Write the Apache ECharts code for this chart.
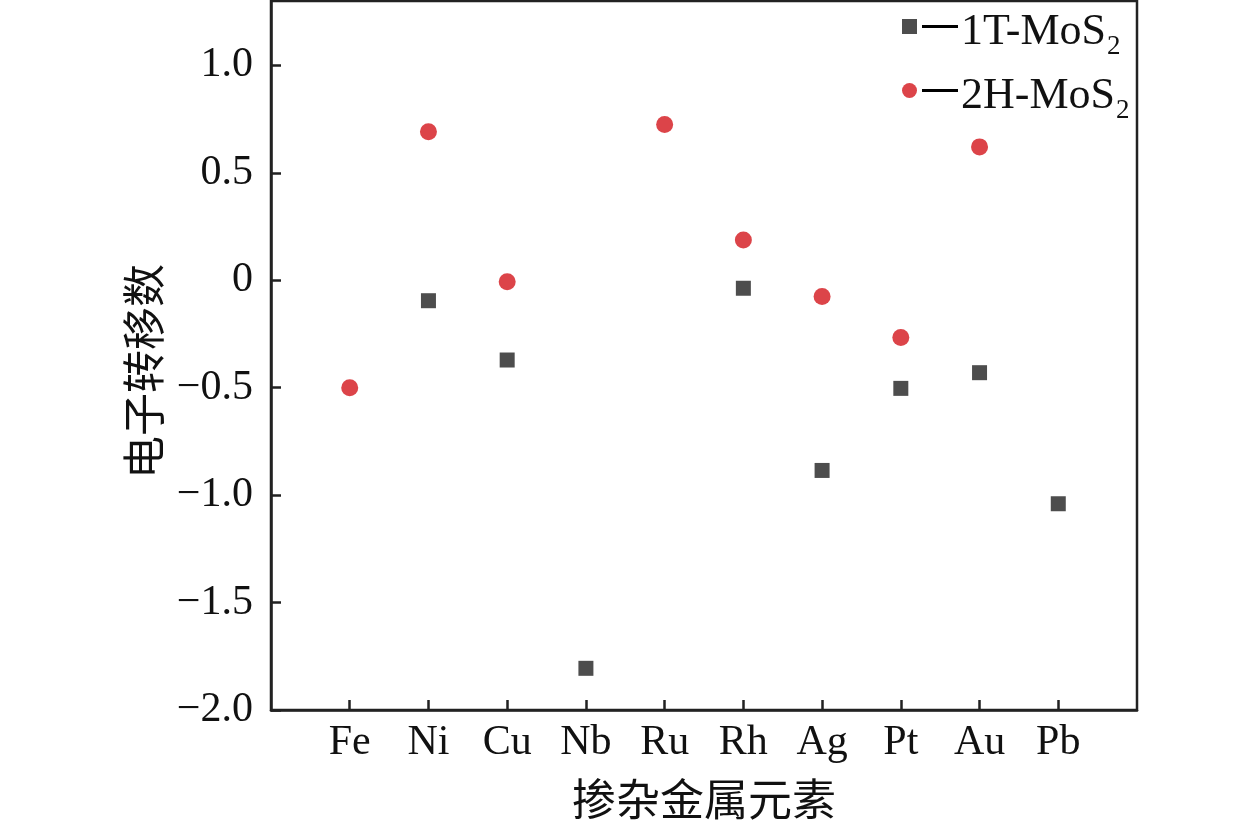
<!DOCTYPE html>
<html>
<head>
<meta charset="utf-8">
<script src="https://cdn.jsdelivr.net/npm/echarts@6/dist/echarts.min.js"></script>
<style>html,body{margin:0;padding:0;background:#fff;}#main{width:1259px;height:828px;}</style>
</head>
<body>
<div id="main"></div>
<script>
const categories = ['Fe', 'Ni', 'Cu', 'Nb', 'Ru', 'Rh', 'Ag', 'Pt', 'Au', 'Pb'];
const values1T = [null, -0.095, -0.371, -1.806, null, -0.037, -0.885, -0.503, -0.430, -1.040];
const values2H = [-0.500, 0.691, -0.007, null, 0.725, 0.188, -0.075, -0.266, 0.621, null];
const seriesNames = ['1T-MoS2', '2H-MoS2'];
const yTicks = [-2.0, -1.5, -1.0, -0.5, 0, 0.5, 1.0];

function toPoints(arr) {
  const out = [];
  arr.forEach((v, i) => { if (v !== null) out.push([i + 1, v]); });
  return out;
}

const serif = '"Liberation Serif", "Times New Roman", serif';
const cjk = '"Noto Sans CJK SC", sans-serif';
const axisColor = '#222';

const chart = echarts.init(document.getElementById('main'));
chart.setOption({
  animation: false,
  backgroundColor: '#fff',
  grid: { left: 271, right: 122, top: 1, bottom: 118, show: true, borderColor: axisColor, borderWidth: 2.5, backgroundColor: 'transparent' },
  legend: {
    orient: 'vertical',
    left: 902,
    top: -7,
    padding: 0,
    itemGap: -3,
    itemWidth: 15,
    itemHeight: 15,
    data: [
      { name: seriesNames[0], icon: 'rect' },
      { name: seriesNames[1], icon: 'circle' }
    ],
    formatter: function (name) {
      return '{bar| }{t|' + name.slice(0, -1) + '}{s|' + name.slice(-1) + '}';
    },
    textStyle: {
      color: '#111',
      rich: {
        bar: { width: 36, height: 3, backgroundColor: '#000', lineHeight: 3 },
        t: { fontFamily: serif, fontSize: 44, lineHeight: 44, padding: [12, 0, 0, 3], color: '#111' },
        s: { fontFamily: serif, fontSize: 27, lineHeight: 27, padding: [40, 0, 0, 1], color: '#111' }
      }
    }
  },
  xAxis: {
    type: 'value',
    min: 0,
    max: 11,
    interval: 1,
    splitLine: { show: false },
    axisLine: { show: true, onZero: false, lineStyle: { color: axisColor, width: 2.5 } },
    axisTick: { show: true, inside: true, length: 10, lineStyle: { color: axisColor, width: 2.5 } },
    axisLabel: {
      margin: 12,
      fontFamily: serif,
      fontSize: 42,
      color: '#111',
      showMinLabel: false,
      showMaxLabel: false,
      formatter: function (v) { return (v >= 1 && v <= categories.length) ? categories[v - 1] : ''; }
    },
    name: '掺杂金属元素',
    nameLocation: 'middle',
    nameGap: 67,
    nameTextStyle: { fontFamily: cjk, fontSize: 44, color: '#111' }
  },
  yAxis: {
    type: 'value',
    min: -2,
    max: 1.3,
    interval: 0.5,
    splitLine: { show: false },
    axisLine: { show: true, onZero: false, lineStyle: { color: axisColor, width: 2.5 } },
    axisTick: { show: true, inside: true, length: 10, lineStyle: { color: axisColor, width: 2.5 } },
    axisLabel: {
      margin: 18,
      fontFamily: serif,
      fontSize: 42,
      color: '#111',
      showMaxLabel: false,
      formatter: function (v) {
        const t = yTicks.find(x => Math.abs(x - v) < 1e-6);
        if (t === undefined) return '';
        if (t === 0) return '0';
        return t.toFixed(1).replace('-', '\u2212');
      }
    },
    name: '电子转移数',
    nameLocation: 'middle',
    nameGap: 106,
    nameTextStyle: { fontFamily: cjk, fontSize: 43, color: '#111', padding: [0, 32, 0, 0] }
  },
  series: [
    {
      name: seriesNames[0],
      type: 'scatter',
      symbol: 'rect',
      symbolSize: 15,
      itemStyle: { color: '#4d4d4d', opacity: 1 },
      data: toPoints(values1T)
    },
    {
      name: seriesNames[1],
      type: 'scatter',
      symbol: 'circle',
      symbolSize: 17,
      itemStyle: { color: '#dc4449', opacity: 1 },
      data: toPoints(values2H)
    }
  ]
});
</script>
</body>
</html>
